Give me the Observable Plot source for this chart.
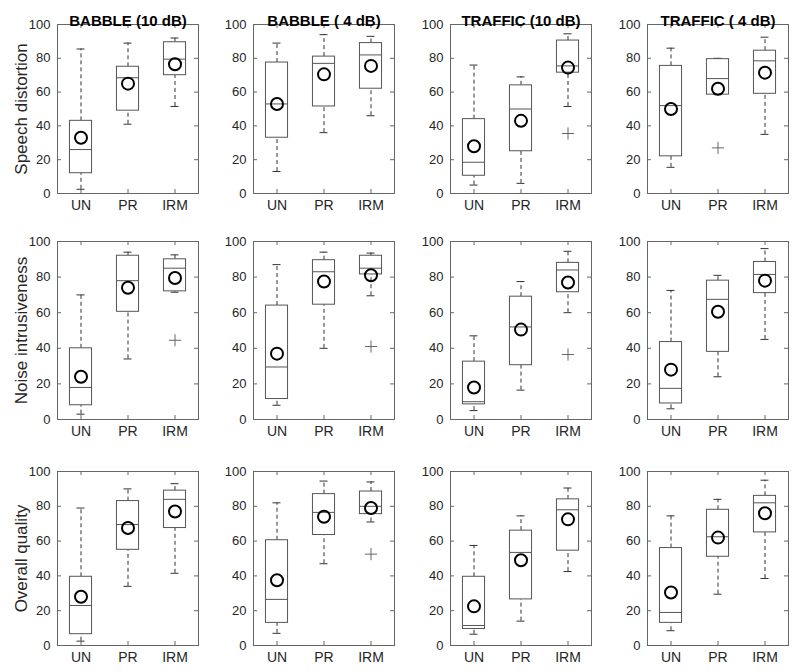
<!DOCTYPE html>
<html>
<head>
<meta charset="utf-8">
<script src="https://cdn.jsdelivr.net/npm/d3@7"></script>
<script src="https://cdn.jsdelivr.net/npm/@observablehq/plot@0.6"></script>
<style>
  html, body { margin: 0; padding: 0; background: white; }
  #chart { position: relative; width: 800px; height: 672px; overflow: hidden; }
  #chart svg { position: absolute; }
</style>
</head>
<body>
<div id="chart"></div>
<script>
// ---- Data ----
const categories = ["UN", "PR", "IRM"];
const conditions = ["BABBLE (10 dB)", "BABBLE ( 4 dB)", "TRAFFIC (10 dB)", "TRAFFIC ( 4 dB)"];
const measures = ["Speech distortion", "Noise intrusiveness", "Overall quality"];
const yTicks = [0, 20, 40, 60, 80, 100];

// [measure][condition][category]
const whiskerHigh = [
  [[85.5, 89, 92], [89, 94, 93], [76, 69, 94.5], [86, 80, 92.5]],
  [[70, 94, 92.5], [87, 94, 93.5], [47, 77.5, 94.5], [72.5, 81, 96]],
  [[79, 90, 93], [82, 94.5, 94], [57.5, 74.5, 90.5], [74.5, 84, 95]]
];
const q3 = [
  [[43, 75, 89.5], [77.5, 81, 89], [44, 64, 90.5], [75.5, 79.5, 84.5]],
  [[40, 92, 90], [64, 89.5, 92], [32.5, 69, 88], [43.5, 78, 88.5]],
  [[39.5, 83, 89], [60.5, 87, 88.5], [39.5, 66, 84], [56, 78, 86]]
];
const median = [
  [[26, 68.5, 79.5], [53, 77, 82], [18.5, 50, 75.5], [52, 68, 78.5]],
  [[18, 78, 85], [29.5, 83, 85], [10, 52, 84], [17.5, 67.5, 81.5]],
  [[23, 69.5, 84], [26.5, 76.5, 80], [11.5, 53.5, 78], [19, 62.5, 82]]
];
const q1 = [
  [[12, 49, 70], [33, 51.5, 62], [10.5, 25, 71.5], [22, 58.5, 59]],
  [[8, 60.5, 72], [11.5, 64.5, 81.5], [8.5, 30.5, 71.5], [9, 38, 71]],
  [[6.5, 55, 67.5], [13, 63.5, 75.5], [9.5, 26.5, 54.5], [13, 51, 65]]
];
const whiskerLow = [
  [[2.5, 41, 51.5], [13, 36, 46], [5, 6, 51.5], [15.5, 58.5, 35]],
  [[3, 34, 71.5], [8, 40, 69.5], [5, 16.5, 60], [6, 24, 45]],
  [[2.5, 34, 41.5], [7, 47, 71], [6.5, 14, 42.5], [8.5, 29.5, 38.5]]
];
const means = [
  [[33, 65, 76.5], [53, 70.5, 75.5], [28, 43, 74.5], [50, 62, 71.5]],
  [[24, 74, 79.5], [37, 77.5, 81], [18, 50.5, 77], [28, 60.5, 78]],
  [[28, 67.5, 77], [37.5, 74, 79], [22.5, 49, 72.5], [30.5, 62, 76]]
];
// outliers: [measure, condition, category, value]
const outliers = [
  [0, 2, "IRM", 35.5],
  [0, 3, "PR", 27],
  [1, 0, "IRM", 44.5],
  [1, 1, "IRM", 41],
  [1, 2, "IRM", 36.5],
  [2, 1, "IRM", 52.5]
];

// ---- Layout / style ----
const boxLeft = [57, 253, 450, 647];
const boxW = 141;
const rowTop = [24, 241, 471];
const rowH = [169, 178, 174];
const mL = 57, mR = 8, mT = 26, mB = 28;
const boxColor = "#555555";
const whiskColor = "#333333";
const frameColor = "#666666";
const textColor = "#262626";
const font = "'Liberation Sans', Arial, Helvetica, sans-serif";

const chart = document.getElementById("chart");

for (let r = 0; r < measures.length; r++) {
  for (let c = 0; c < conditions.length; c++) {
    const rows = categories.map((cat, k) => ({
      cat,
      lo: whiskerLow[r][c][k],
      q1: q1[r][c][k],
      med: median[r][c][k],
      q3: q3[r][c][k],
      hi: whiskerHigh[r][c][k],
      mean: means[r][c][k]
    }));
    const outs = outliers.filter(o => o[0] === r && o[1] === c).map(o => ({cat: o[2], v: o[3]}));
    const plotH = rowH[r];
    const band = boxW / categories.length;
    const boxInset = band * 0.265;
    const capInset = band * 0.415;

    const marks = [
      Plot.frame({stroke: frameColor}),
      // inner ticks (MATLAB style, all four sides)
      Plot.tickY(yTicks, {y: d => d, insetRight: boxW - 4, stroke: frameColor}),
      Plot.tickY(yTicks, {y: d => d, insetLeft: boxW - 4, stroke: frameColor}),
      Plot.tickX(categories, {x: d => d, insetBottom: plotH - 4, stroke: frameColor}),
      Plot.tickX(categories, {x: d => d, insetTop: plotH - 4, stroke: frameColor}),
      Plot.axisY({ticks: yTicks, tickSize: 0, tickPadding: 7, label: null, fontSize: 13, fill: textColor}),
      Plot.axisX({tickSize: 0, tickPadding: 7, label: null, fontSize: 14, fill: textColor}),
      // whiskers
      Plot.ruleX(rows, {x: "cat", y1: "q3", y2: "hi", stroke: whiskColor, strokeDasharray: "4,3"}),
      Plot.ruleX(rows, {x: "cat", y1: "lo", y2: "q1", stroke: whiskColor, strokeDasharray: "4,3"}),
      Plot.tickY(rows, {x: "cat", y: "hi", insetLeft: capInset, insetRight: capInset, stroke: whiskColor}),
      Plot.tickY(rows, {x: "cat", y: "lo", insetLeft: capInset, insetRight: capInset, stroke: whiskColor}),
      // boxes
      Plot.barY(rows, {x: "cat", y1: "q1", y2: "q3", fill: "white", stroke: boxColor, insetLeft: boxInset, insetRight: boxInset}),
      Plot.tickY(rows, {x: "cat", y: "med", insetLeft: boxInset, insetRight: boxInset, stroke: boxColor}),
      // outliers
      Plot.dot(outs, {x: "cat", y: "v", symbol: "plus", r: 4, stroke: "#666", strokeWidth: 1}),
      // means
      Plot.dot(rows, {x: "cat", y: "mean", r: 6, stroke: "black", strokeWidth: 2, fill: "none"})
    ];
    if (r === 0) {
      marks.push(Plot.text([conditions[c]], {text: d => d, frameAnchor: "top", textAnchor: "middle", dy: -9, fontWeight: "bold", fontSize: 15, fill: "black"}));
    }
    if (c === 0) {
      marks.push(Plot.text([measures[r]], {text: d => d, frameAnchor: "left", textAnchor: "middle", lineAnchor: "middle", dx: -36, rotate: -90, fontSize: 17, fill: textColor}));
    }

    const svg = Plot.plot({
      width: mL + boxW + mR,
      height: mT + plotH + mB,
      marginLeft: mL,
      marginRight: mR,
      marginTop: mT,
      marginBottom: mB,
      style: {background: "none", fontFamily: font, fontSize: "13px", color: textColor, overflow: "visible"},
      x: {type: "band", domain: categories, padding: 0},
      y: {domain: [0, 100]},
      marks
    });
    svg.style.left = (boxLeft[c] - mL) + "px";
    svg.style.top = (rowTop[r] - mT) + "px";
    chart.appendChild(svg);
  }
}
</script>
</body>
</html>
